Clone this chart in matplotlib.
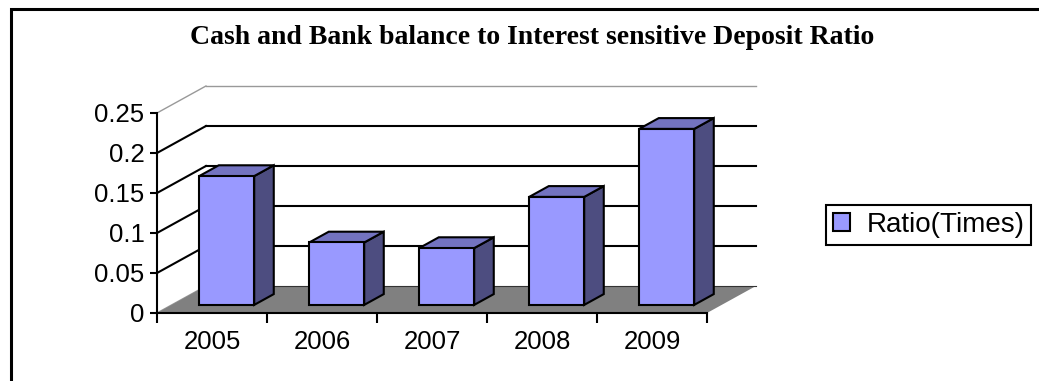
import matplotlib
matplotlib.use("Agg")
import matplotlib.pyplot as plt
from matplotlib.patches import Polygon, Rectangle, Patch
from matplotlib.lines import Line2D

years = ["2005", "2006", "2007", "2008", "2009"]
ratio = [0.161, 0.078, 0.071, 0.135, 0.220]
y_ticks = [0, 0.05, 0.1, 0.15, 0.2, 0.25]
y_labels = ["0", "0.05", "0.1", "0.15", "0.2", "0.25"]
title = "Cash and Bank balance to Interest sensitive Deposit Ratio"
series_name = "Ratio(Times)"

W, H = 1039, 381
fig = plt.figure(figsize=(W / 100, H / 100), dpi=100)
fig.patch.set_facecolor("white")

# front plane of the pseudo-3D plot area
ax = fig.add_axes([157 / W, (H - 313) / H, 550 / W, 200 / H])
ax.set_xlim(-0.5, len(years) - 0.5)
ax.set_ylim(0, 0.25)
ax.set_facecolor("none")

# depth of the box in data units, and where the bars sit inside it
DX, DY = 0.445, 0.03375
D0, DD = 0.3, 0.4
x_lo, x_hi = -0.5, len(years) - 0.5

front_c, top_c, side_c = "#9999FF", "#7373C0", "#4D4D80"
sans = "Liberation Sans"
fs = 18.5

# back wall gridlines and left wall diagonals
for v in y_ticks[1:]:
    col, lw = ("#999999", 1.0) if v == y_ticks[-1] else ("black", 1.5)
    ax.add_line(Line2D([x_lo + DX, x_hi + DX], [v + DY, v + DY], color=col, lw=lw,
                       clip_on=False, zorder=1))
for v in y_ticks:
    col, lw = ("#999999", 1.0) if v in (y_ticks[0], y_ticks[-1]) else ("black", 1.5)
    ax.add_line(Line2D([x_lo, x_lo + DX], [v, v + DY], color=col, lw=lw,
                       clip_on=False, zorder=1))

# floor
ax.add_patch(Polygon([(x_lo, 0), (x_hi, 0), (x_hi + DX, DY), (x_lo + DX, DY)],
                     closed=True, facecolor="#808080", edgecolor="none",
                     clip_on=False, zorder=2))
ax.add_line(Line2D([x_lo + DX, x_hi + DX], [DY, DY], color="#333333", lw=0.8,
                   clip_on=False, zorder=2))

# bars as boxes: front, top and right side faces
bdx, bdy = DD * DX, DD * DY
for i, v in enumerate(ratio):
    x0 = i - 0.25 + D0 * DX
    x1 = i + 0.25 + D0 * DX
    y0 = D0 * DY
    y1 = v + D0 * DY
    kw = dict(edgecolor="black", lw=1.5, joinstyle="miter", clip_on=False, zorder=3)
    ax.add_patch(Polygon([(x1, y0), (x1 + bdx, y0 + bdy), (x1 + bdx, y1 + bdy), (x1, y1)],
                         closed=True, facecolor=side_c, **kw))
    ax.add_patch(Polygon([(x0, y1), (x1, y1), (x1 + bdx, y1 + bdy), (x0 + bdx, y1 + bdy)],
                         closed=True, facecolor=top_c, **kw))
    ax.add_patch(Rectangle((x0, y0), x1 - x0, y1 - y0, facecolor=front_c, **kw))

# axes
for s in ("top", "right"):
    ax.spines[s].set_visible(False)
for s in ("left", "bottom"):
    ax.spines[s].set_linewidth(1.5)
    ax.spines[s].set_zorder(4)
ax.set_yticks(y_ticks)
ax.set_yticklabels(y_labels, fontsize=fs, fontfamily=sans)
ax.tick_params(axis="y", direction="out", length=5, width=1.5, pad=4)
ax.set_xticks([i - 0.5 for i in range(len(years) + 1)])
ax.set_xticklabels([])
ax.tick_params(axis="x", which="major", direction="out", length=7, width=1.5)
ax.set_xticks(range(len(years)), minor=True)
ax.set_xticklabels(years, minor=True, fontsize=fs, fontfamily=sans)
ax.tick_params(axis="x", which="minor", length=0, pad=12)

# title
fig.text(532 / W, 1 - 37 / H, title, ha="center", va="center", fontsize=20,
         fontweight="bold", fontfamily="Liberation Serif")

# legend
handle = Patch(facecolor=front_c, edgecolor="black", lw=1.5)
leg = fig.legend([handle], [series_name], loc="center left",
                 bbox_to_anchor=(826 / W, 1 - 225 / H),
                 prop={"family": sans, "size": 20},
                 frameon=True, fancybox=False, framealpha=1, edgecolor="black",
                 handlelength=0.6, handleheight=0.6, handletextpad=0.6,
                 borderpad=0.25, borderaxespad=0)
leg.get_frame().set_linewidth(1.5)

# chart border
fig.add_artist(Rectangle((11 / W, -0.1), 1.2, 1 - 9 / H + 0.1, transform=fig.transFigure,
                         facecolor="none", edgecolor="black", lw=2.2))

fig.savefig("out.png", dpi=100)
